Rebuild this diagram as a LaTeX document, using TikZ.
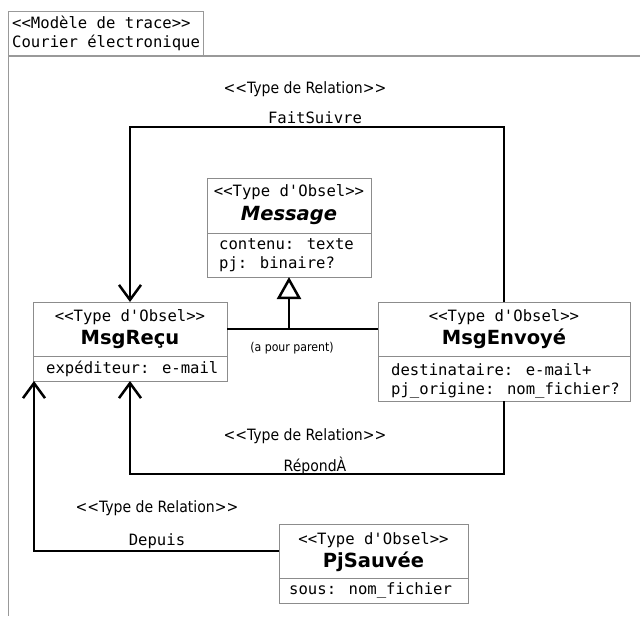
\documentclass[tikz,border=0pt]{standalone}
\usepackage{fontspec}
\usetikzlibrary{arrows.meta,calc}
\newfontfamily\monof{DejaVu Sans Mono}[Ligatures=TeXOff]
\newfontfamily\sansf{DejaVu Sans}[Ligatures=TeXOff]
\newfontfamily\condf{DejaVu Sans Condensed}[Ligatures=TeXOff]
\begin{document}
\begin{tikzpicture}[x=1pt,y=-1pt,
  box/.style={draw=black!45, line width=1pt, inner sep=0pt, outer sep=0pt, anchor=north west},
  mono/.style={font=\fontsize{15.6}{19.5}\selectfont\monof, inner sep=0pt},
  attr/.style={mono, anchor=west, align=left},
  bname/.style={font=\fontsize{19.5}{21}\selectfont\sansf\bfseries, inner sep=0pt},
  rel/.style={font=\fontsize{15.6}{18}\selectfont\condf, inner sep=0pt},
  conn/.style={line width=2.5pt, line join=miter},
  opena/.style={-{Straight Barb[length=15pt,width=22pt,line width=2.5pt]}},
  gen/.style={-{Triangle[open,length=22pt,width=24pt,line width=2.5pt,fill=white]}}
]
\useasboundingbox (0,0) rectangle (640,616);
% frame and tab
\draw[draw=black!40, line width=1.2pt] (640,56) -- (8.5,56) -- (8.5,616);
\node[box, draw=black!40, minimum width=195pt, minimum height=44.5pt] (tab) at (8.5,11.5) {};
\node[attr] (tabt) at (12,33.5) {<<Modèle de trace>>\\Courier électronique};

% Message
\node[box, minimum width=164pt, minimum height=55pt] (msgH) at (207,178) {};
\node[box, minimum width=164pt, minimum height=44pt] (msgA) at (207,233) {};
\node[mono] (msgS) at (289,192) {<<Type d'Obsel>>};
\node[bname, font=\fontsize{19.5}{21}\selectfont\sansf\bfseries\itshape] (msgN) at (289,215) {Message};
\node[attr] (msgT) at (219,255) {contenu: texte\\pj: binaire?};

% MsgRecu
\node[box, minimum width=194pt, minimum height=54pt] (recuH) at (33,302) {};
\node[box, minimum width=194pt, minimum height=25pt] (recuA) at (33,356) {};
\node[mono] (recuS) at (130,317) {<<Type d'Obsel>>};
\node[bname] (recuN) at (130,339) {MsgReçu};
\node[attr] (recuT) at (46,368.5) {expéditeur: e-mail};

% MsgEnvoye
\node[box, minimum width=252pt, minimum height=54pt] (envH) at (378,302) {};
\node[box, minimum width=252pt, minimum height=45pt] (envA) at (378,356) {};
\node[mono] (envS) at (504,317) {<<Type d'Obsel>>};
\node[bname] (envN) at (504,339) {MsgEnvoyé};
\node[attr] (envT) at (391,381) {destinataire: e-mail+\\pj\_origine: nom\_fichier?};

% PjSauvee
\node[box, minimum width=189pt, minimum height=54pt] (pjH) at (279,524) {};
\node[box, minimum width=189pt, minimum height=25pt] (pjA) at (279,578) {};
\node[mono] (pjS) at (373.5,540) {<<Type d'Obsel>>};
\node[bname] (pjN) at (373.5,562) {PjSauvée};
\node[attr] (pjT) at (289,590.5) {sous: nom\_fichier};

% generalisation
\draw[conn] (recuH.east) -- (envH.west);
\draw[conn, gen] (msgA.south |- recuH.east) -- (msgA.south);
\node[font=\fontsize{12.2}{14}\selectfont\condf, inner sep=0pt] (par) at (292,348) {(a pour parent)};

% FaitSuivre
\draw[conn, opena] (envH.north) -- ++(0,-175) -| (recuH.north);
\node[rel] (fsS) at (305,89) {<<Type de Relation>>};
\node[mono] (fsN) at (315,118) {FaitSuivre};

% RepondA
\draw[conn, opena] (envA.south) -- ++(0,73) -| (recuA.south);
\node[rel] (raS) at (305,436) {<<Type de Relation>>};
\node[rel] (raN) at (315,466) {RépondÀ};

% Depuis
\coordinate (dep) at ($(recuA.south west)+(1,0)$);
\draw[conn, opena] (pjH.west) -| (dep);
\node[rel] (dpS) at (157,508) {<<Type de Relation>>};
\node[mono] (dpN) at (157,541) {Depuis};
\end{tikzpicture}
\end{document}
